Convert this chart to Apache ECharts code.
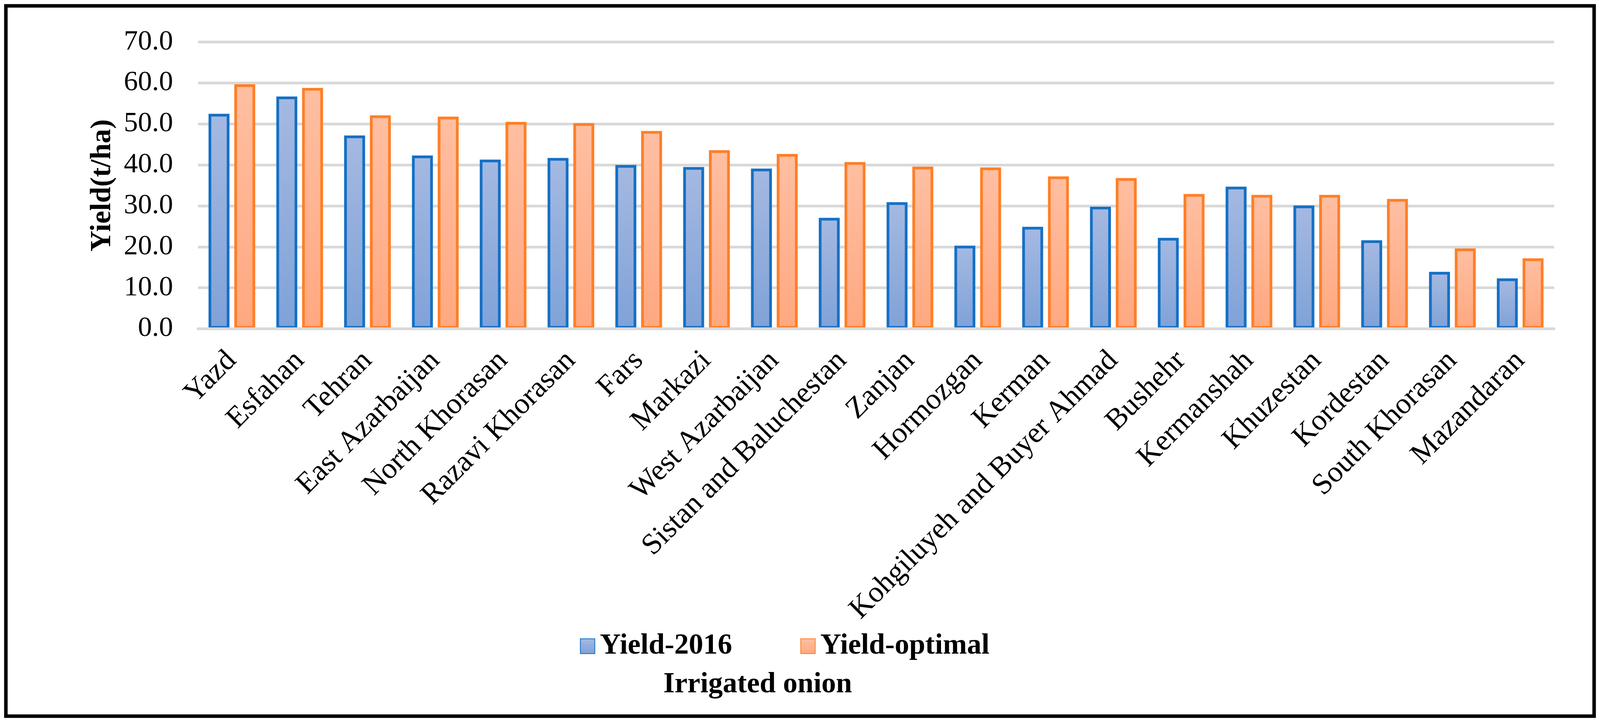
<!DOCTYPE html>
<html>
<head>
<meta charset="utf-8">
<script src="https://cdn.jsdelivr.net/npm/echarts@6/dist/echarts.min.js"></script>
<style>
html,body{margin:0;padding:0;background:#fff;overflow:hidden;}
#chart{width:100vw;height:100vh;}
</style>
</head>
<body>
<div id="chart"></div>
<script>
const categories = ['Yazd','Esfahan','Tehran','East Azarbaijan','North Khorasan','Razavi Khorasan','Fars','Markazi','West Azarbaijan','Sistan and Baluchestan','Zanjan','Hormozgan','Kerman','Kohgiluyeh and Buyer Ahmad','Bushehr','Kermanshah','Khuzestan','Kordestan','South Khorasan','Mazandaran'];
const yield2016 = [52.5,56.7,47.2,42.3,41.3,41.7,40.0,39.5,39.1,27.1,30.9,20.3,24.9,29.8,22.2,34.7,30.1,21.6,13.9,12.3];
const yieldOptimal = [59.7,58.8,52.1,51.8,50.5,50.2,48.3,43.6,42.7,40.7,39.6,39.4,37.2,36.8,32.9,32.7,32.7,31.7,19.6,17.2];
const seriesNames = ['Yield-2016','Yield-optimal'];
const xTitle = 'Irrigated onion';
const yTitle = 'Yield(t/ha)';

const FONT = 'Liberation Serif, Times New Roman, serif';
const el = document.getElementById('chart');
const W = window.innerWidth || 4356;
const H = window.innerHeight || 1848;
const sx = W / 4356, sy = H / 1848;
const chart = echarts.init(el, null, {width: W, height: H});

function grad(top, bottom){
  return new echarts.graphic.LinearGradient(0,0,0,1,[{offset:0,color:top},{offset:1,color:bottom}]);
}
const legendText = {fontFamily:FONT,fontSize:74,fontWeight:'bold',color:'#000',padding:[0,0,0,8]};

chart.setOption({
  animation:false,
  backgroundColor:'#ffffff',
  title:{
    text:xTitle,
    left:1806*sx, top:1716*sy,
    padding:0,
    textStyle:{fontFamily:FONT,fontSize:74,fontWeight:'bold',color:'#000'}
  },
  legend:[
    {left:1579*sx, top:1617*sy, padding:0, itemWidth:37, itemHeight:38, icon:'rect', textStyle:legendText, data:[seriesNames[0]]},
    {left:2179*sx, top:1617*sy, padding:0, itemWidth:37, itemHeight:38, icon:'rect', textStyle:legendText, data:[seriesNames[1]]}
  ],
  grid:{left:539*sx,right:125*sx,top:107.7*sy,bottom:1006.5*sy,containLabel:false},
  xAxis:{
    type:'category',
    data:categories,
    z:3,
    axisLine:{show:true,lineStyle:{color:'#d9d9d9',width:7}},
    axisTick:{show:false},
    axisLabel:{interval:0,rotate:45,margin:70*sy,fontFamily:FONT,fontSize:76,color:'#000'}
  },
  yAxis:{
    type:'value',
    min:0,max:70,interval:10,
    name:yTitle,
    nameLocation:'middle',
    nameGap:220*sx,
    nameTextStyle:{fontFamily:FONT,fontSize:74,fontWeight:'bold',color:'#000'},
    axisLine:{show:false},
    axisTick:{show:false},
    axisLabel:{margin:68*sx,fontFamily:FONT,fontSize:72,color:'#000',formatter:v=>v.toFixed(1)},
    splitLine:{lineStyle:{color:'#d9d9d9',width:7}}
  },
  series:[
    {
      name:seriesNames[0], type:'bar', data:yield2016,
      barWidth:57*sx, barGap:'23%',
      itemStyle:{color:grad('#a5b9e1','#7fa2d8'),borderColor:'#1570c5',borderWidth:7}
    },
    {
      name:seriesNames[1], type:'bar', data:yieldOptimal,
      barWidth:57*sx, barGap:'23%',
      itemStyle:{color:grad('#ffbfa2','#ffa880'),borderColor:'#ff7f27',borderWidth:7}
    }
  ],
  graphic:[{
    type:'rect', silent:true, z:10,
    shape:{x:16*sx,y:15*sy,width:W-32*sx,height:H-30*sy},
    style:{fill:'none',stroke:'#000',lineWidth:9}
  }]
});
</script>
</body>
</html>
